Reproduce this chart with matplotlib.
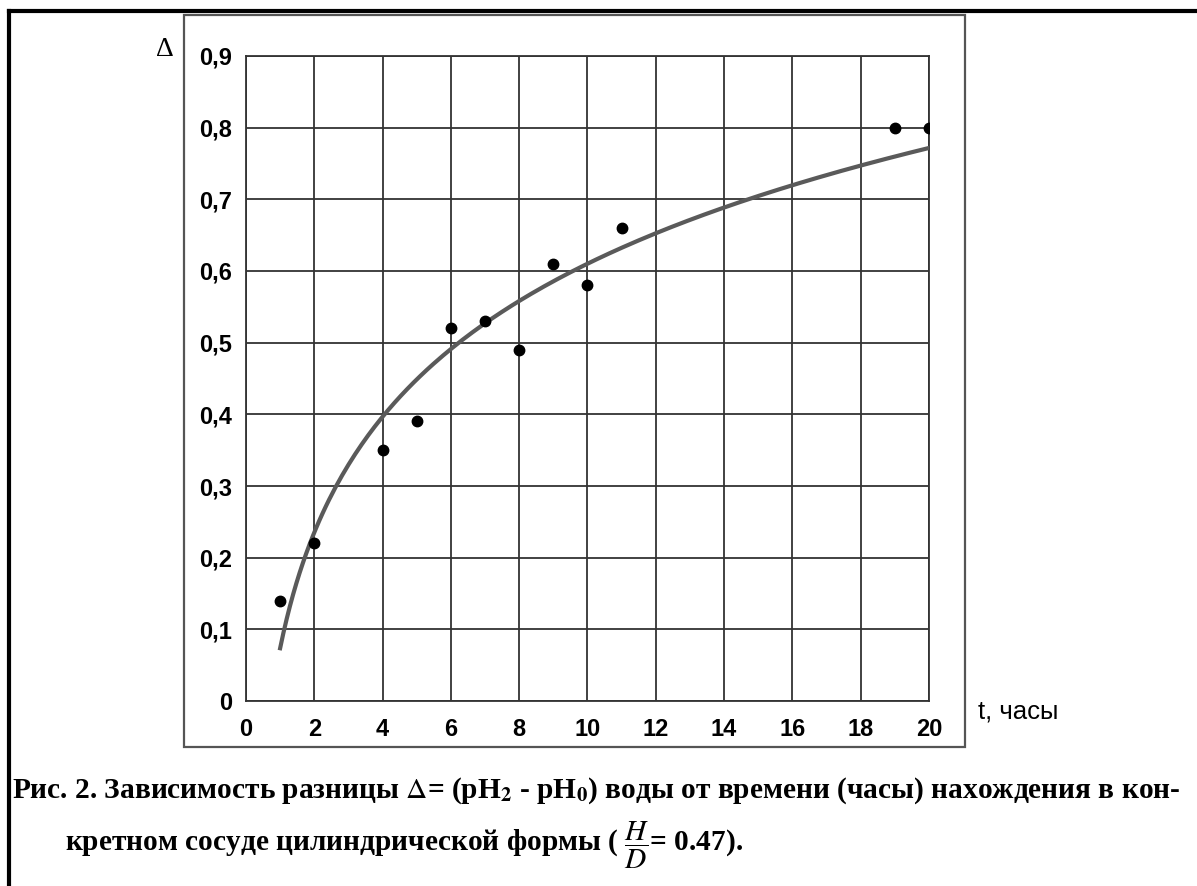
import matplotlib
matplotlib.use('Agg')
import matplotlib.pyplot as plt
from matplotlib.patches import Rectangle
from matplotlib.lines import Line2D
from matplotlib.ticker import MultipleLocator, FuncFormatter
import numpy as np

# measured points: time (hours) and delta = pH2 - pH0
hours = [1, 2, 4, 5, 6, 7, 8, 9, 10, 11, 19, 20]
delta = [0.14, 0.22, 0.35, 0.39, 0.52, 0.53, 0.49, 0.61, 0.58, 0.66, 0.80, 0.80]

plt.rcParams['mathtext.fontset'] = 'stix'

fig = plt.figure(figsize=(11.97, 8.86), dpi=100)
ax = fig.add_axes([0.2055, 0.2088, 0.5706, 0.728])

# logarithmic trend line fitted to the points
b, a = np.polyfit(np.log(hours), delta, 1)
tt = np.linspace(1, 20, 200)
ax.plot(tt, a + b * np.log(tt), color='#5a5a5a', lw=3, zorder=3)
ax.plot(hours, delta, 'o', color='black', ms=7.5, zorder=4)

ax.set_xlim(0, 20)
ax.set_ylim(0, 0.9)
ax.xaxis.set_major_locator(MultipleLocator(2))
ax.yaxis.set_major_locator(MultipleLocator(0.1))
ax.yaxis.set_major_formatter(FuncFormatter(lambda v, p: '0' if abs(v) < 1e-9 else ('%.1f' % v).replace('.', ',')))
ax.grid(True, color='#333333', lw=1.3)
for s in ax.spines.values():
    s.set_color('#333333')
    s.set_linewidth(1.3)
ax.tick_params(length=0, labelsize=17, pad=10)
ax.tick_params(axis='x', pad=12)
for lab in ax.get_xticklabels() + ax.get_yticklabels():
    lab.set_fontfamily('Liberation Sans')
    lab.set_fontweight('bold')

fig.text(165 / 1197, 1 - 49 / 886, 'Δ', family='Liberation Serif', fontsize=20,
         ha='center', va='center')
fig.text(978 / 1197, 1 - 711 / 886, 't, часы', family='Liberation Sans', fontsize=18.5,
         ha='left', va='center')

# box around the chart
fig.patches.append(Rectangle((184 / 1197, 139 / 886), (965 - 184) / 1197, (747 - 15) / 886,
                             transform=fig.transFigure, fill=False, ec='#555555', lw=1.6))
# outer frame (top and left)
fig.lines.append(Line2D([9 / 1197, 1], [875 / 886, 875 / 886], transform=fig.transFigure,
                        color='black', lw=3))
fig.lines.append(Line2D([9 / 1197, 9 / 1197], [0, 875 / 886], transform=fig.transFigure,
                        color='black', lw=3))

cap1 = r'Рис. 2. Зависимость разницы $\Delta$= (pH$_\mathbf{2}$ - pH$_\mathbf{0}$) воды от времени (часы) нахождения в кон-'
cap2 = r'кретном сосуде цилиндрической формы ( $\dfrac{H}{D}$= 0.47).'
fig.text(12 / 1197, 1 - 791 / 886, cap1, family='Liberation Serif', fontweight='bold',
         fontsize=21.2, ha='left', va='center')
fig.text(65 / 1197, 1 - 845 / 886, cap2, family='Liberation Serif', fontweight='bold',
         fontsize=21.2, ha='left', va='center')

fig.savefig('out.png', dpi=100)
